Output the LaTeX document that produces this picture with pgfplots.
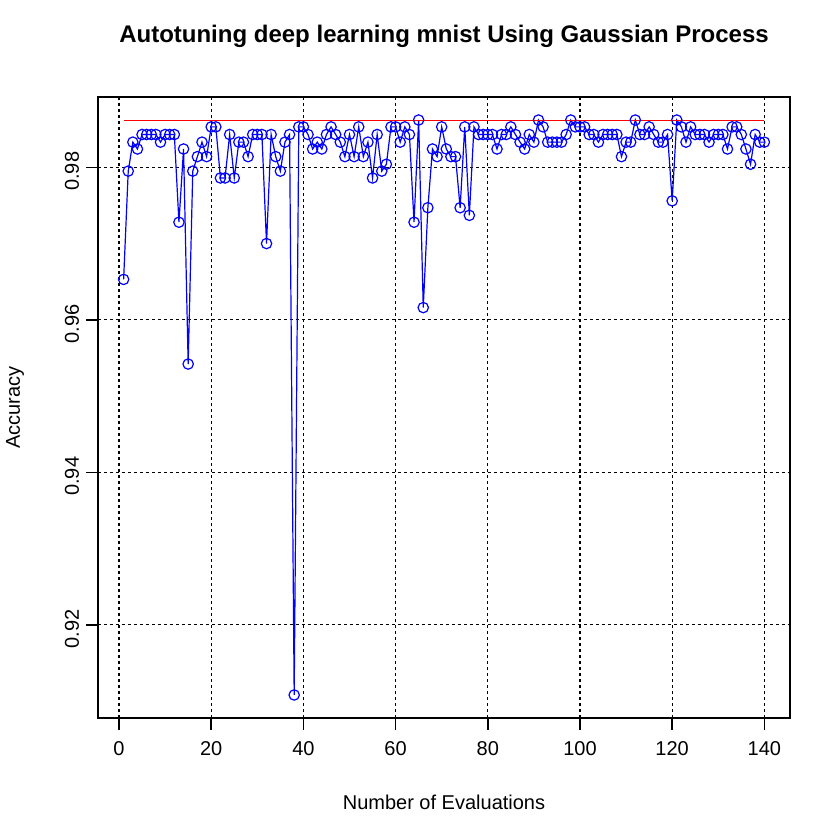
\documentclass[border=0pt]{standalone}
\usepackage{pgfplots}
\pgfplotsset{compat=1.18}
\usepackage{fontspec}
\setmainfont{Liberation Sans}
\pgfplotstableread{
x y
1 0.9653
2 0.9795
3 0.9833
4 0.9824
5 0.9843
6 0.9843
7 0.9843
8 0.9843
9 0.9833
10 0.9843
11 0.9843
12 0.9843
13 0.9728
14 0.9824
15 0.9542
16 0.9795
17 0.9814
18 0.9833
19 0.9814
20 0.9853
21 0.9853
22 0.9786
23 0.9786
24 0.9843
25 0.9786
26 0.9833
27 0.9833
28 0.9814
29 0.9843
30 0.9843
31 0.9843
32 0.9700
33 0.9843
34 0.9814
35 0.9795
36 0.9833
37 0.9843
38 0.9108
39 0.9853
40 0.9853
41 0.9843
42 0.9824
43 0.9833
44 0.9824
45 0.9843
46 0.9853
47 0.9843
48 0.9833
49 0.9814
50 0.9843
51 0.9814
52 0.9853
53 0.9814
54 0.9833
55 0.9786
56 0.9843
57 0.9795
58 0.9804
59 0.9853
60 0.9853
61 0.9833
62 0.9853
63 0.9843
64 0.9728
65 0.9862
66 0.9616
67 0.9747
68 0.9824
69 0.9814
70 0.9853
71 0.9824
72 0.9814
73 0.9814
74 0.9747
75 0.9853
76 0.9737
77 0.9853
78 0.9843
79 0.9843
80 0.9843
81 0.9843
82 0.9824
83 0.9843
84 0.9843
85 0.9853
86 0.9843
87 0.9833
88 0.9824
89 0.9843
90 0.9833
91 0.9862
92 0.9853
93 0.9833
94 0.9833
95 0.9833
96 0.9833
97 0.9843
98 0.9862
99 0.9853
100 0.9853
101 0.9853
102 0.9843
103 0.9843
104 0.9833
105 0.9843
106 0.9843
107 0.9843
108 0.9843
109 0.9814
110 0.9833
111 0.9833
112 0.9862
113 0.9843
114 0.9843
115 0.9853
116 0.9843
117 0.9833
118 0.9833
119 0.9843
120 0.9756
121 0.9862
122 0.9853
123 0.9833
124 0.9853
125 0.9843
126 0.9843
127 0.9843
128 0.9833
129 0.9843
130 0.9843
131 0.9843
132 0.9824
133 0.9853
134 0.9853
135 0.9843
136 0.9824
137 0.9804
138 0.9843
139 0.9833
140 0.9833
}\acc
\begin{document}
\begin{tikzpicture}
\begin{axis}[
  scale only axis,
  width=346bp, height=310.5bp,
  xmin=-4.56, xmax=145.56,
  ymin=0.90778, ymax=0.98922,
  xtick={0,20,...,140},
  ytick={0.92,0.94,0.96,0.98},
  yticklabels={0.92,0.94,0.96,0.98},
  scaled y ticks=false,
  /pgf/number format/assume math mode=true,
  tick align=outside,
  major tick length=6bp,
  xtick pos=bottom, ytick pos=left,
  axis line style={line width=0.75bp},
  every tick/.style={black, line width=0.75bp},
  grid=major,
  major grid style={black, line width=0.6bp, dash pattern=on 1.5bp off 1.5bp},
  tick label style={font=\fontsize{10bp}{12bp}\selectfont},
  xticklabel style={anchor=north, yshift=-2bp},
  yticklabel style={rotate=90, anchor=south, xshift=-2bp},
  title={Autotuning deep learning mnist Using Gaussian Process},
  title style={font=\fontsize{12bp}{14bp}\selectfont\bfseries, at={(0.5,1)}, anchor=center, yshift=24.5bp},
  xlabel={Number of Evaluations},
  xlabel style={font=\fontsize{10bp}{12bp}\selectfont, at={(0.5,0)}, anchor=center, yshift=-42bp},
  ylabel={Accuracy},
  ylabel style={font=\fontsize{10bp}{12bp}\selectfont, at={(0,0.5)}, anchor=center, yshift=41.5bp},
]
\addplot[blue, line width=0.6bp, mark=o, mark size=2.6bp, mark options={line width=0.6bp}] table[x=x,y=y] {\acc};
\addplot[red, line width=0.5bp, no marks] coordinates {(1,0.9862) (140,0.9862)};
\end{axis}
\pgfresetboundingbox
\path[use as bounding box] ([xshift=-49bp,yshift=-61bp]current axis.south west) rectangle ([xshift=25bp,yshift=48.5bp]current axis.north east);
\end{tikzpicture}
\end{document}
